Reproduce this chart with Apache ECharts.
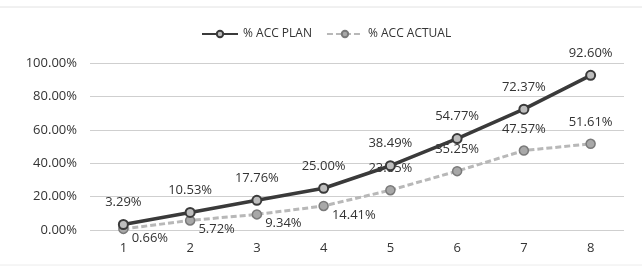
<!DOCTYPE html>
<html>
<head>
<meta charset="utf-8">
<script src="https://cdn.jsdelivr.net/npm/echarts@6/dist/echarts.min.js"></script>
<style>
  html, body { margin: 0; padding: 0; background: #fff; }
  #chart { width: 642px; height: 270px; }
</style>
</head>
<body>
<div id="chart"></div>
<script>
const categories = ["1", "2", "3", "4", "5", "6", "7", "8"];
const planValues = [3.29, 10.53, 17.76, 25.00, 38.49, 54.77, 72.37, 92.60];
const actualValues = [0.66, 5.72, 9.34, 14.41, 23.85, 35.25, 47.57, 51.61];
const yTicks = [0, 20, 40, 60, 80, 100];

const chart = echarts.init(document.getElementById("chart"));
const fontFamily = "'Open Sans', 'DejaVu Sans', sans-serif";
const pct = v => Number(v).toFixed(2) + "%";

// actual labels sit right-below for the first points, above for the rest
const actualData = actualValues.map((v, i) => ({
  value: v,
  label: i < 4
    ? { position: "right", offset: [-2, 9] }
    : { position: "top", offset: [0, -5] }
}));

chart.setOption({
  animation: false,
  textStyle: { fontFamily },
  graphic: [
    { type: "line", shape: { x1: 0, y1: 7, x2: 642, y2: 7 }, style: { stroke: "#e2e2e2", lineWidth: 1 } },
    { type: "line", shape: { x1: 0, y1: 265, x2: 642, y2: 265 }, style: { stroke: "#ececec", lineWidth: 1 } }
  ],
  legend: {
    top: 23,
    left: 196,
    itemWidth: 36,
    itemHeight: 8,
    itemGap: 14,
    textStyle: { fontSize: 12, color: "#333", fontFamily },
    data: ["% ACC PLAN", "% ACC ACTUAL"]
  },
  grid: { left: 90, right: 18, top: 63, bottom: 40 },
  xAxis: {
    type: "category",
    data: categories,
    boundaryGap: true,
    axisLine: { show: false },
    axisTick: { show: false },
    axisLabel: { color: "#333", fontSize: 13, margin: 12, fontFamily }
  },
  yAxis: {
    type: "value",
    min: yTicks[0],
    max: yTicks[yTicks.length - 1],
    interval: 20,
    axisLine: { show: false },
    axisTick: { show: false },
    axisLabel: { color: "#333", fontSize: 13, margin: 13, formatter: v => pct(v) },
    splitLine: { lineStyle: { color: "#cfcfcf", width: 1 } }
  },
  series: [
    {
      name: "% ACC PLAN",
      type: "line",
      data: planValues,
      symbol: "circle",
      symbolSize: 9,
      lineStyle: { color: "#3a3a3a", width: 3.5 },
      itemStyle: { color: "#bdbdbd", borderColor: "#3a3a3a", borderWidth: 2 },
      label: {
        show: true,
        position: "top",
        offset: [0, -5],
        color: "#333",
        fontSize: 13,
        formatter: p => pct(p.value)
      },
      z: 3
    },
    {
      name: "% ACC ACTUAL",
      type: "line",
      data: actualData,
      symbol: "circle",
      symbolSize: 9,
      lineStyle: { color: "#b8b8b8", width: 3, type: [6, 3] },
      itemStyle: { color: "#a8a8a8", borderColor: "#7a7a7a", borderWidth: 1.5 },
      label: {
        show: true,
        color: "#333",
        fontSize: 13,
        formatter: p => pct(p.value)
      },
      z: 2
    }
  ]
});
</script>
</body>
</html>
